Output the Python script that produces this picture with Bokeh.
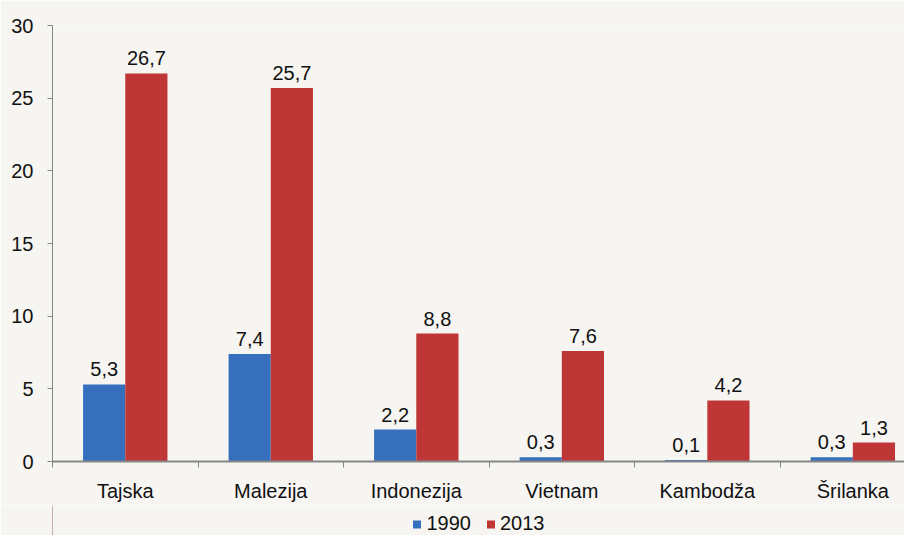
from bokeh.plotting import figure
from bokeh.layouts import column
from bokeh.models import ColumnDataSource, FixedTicker, Legend, LegendItem, Range1d
from bokeh.core.properties import value
from bokeh.embed import file_html
from bokeh.resources import INLINE

categories = ["Tajska", "Malezija", "Indonezija", "Vietnam", "Kambodža", "Šrilanka"]
values_1990 = [5.3, 7.4, 2.2, 0.3, 0.1, 0.3]
values_2013 = [26.7, 25.7, 8.8, 7.6, 4.2, 1.3]
series_names = ["1990", "2013"]
y_ticks = [0, 5, 10, 15, 20, 25, 30]

def fmt(v):
    return f"{v:.1f}".replace(".", ",")

centers = [i + 0.5 for i in range(len(categories))]
bw = 0.29
src1 = ColumnDataSource(dict(x=[c - bw / 2 for c in centers], top=values_1990,
                             lab=[fmt(v) for v in values_1990]))
src2 = ColumnDataSource(dict(x=[c + bw / 2 for c in centers], top=values_2013,
                             lab=[fmt(v) for v in values_2013]))

FS = "20px"
FONT = "Liberation Sans"
BG = "#f6f5f2"
BLUE = "#3670bd"
RED = "#bf3636"

p = figure(width=904, height=505, output_backend="svg", toolbar_location=None,
           x_range=Range1d(0, 5.855), y_range=Range1d(0, 30),
           min_border_left=52, min_border_right=0, min_border_top=25,
           min_border_bottom=44)
p.background_fill_color = BG
p.border_fill_color = BG
p.outline_line_color = None
p.xgrid.visible = False
p.ygrid.visible = False

r1 = p.vbar(x="x", top="top", width=bw, bottom=0, source=src1,
            fill_color=BLUE, line_color=None)
r2 = p.vbar(x="x", top="top", width=bw, bottom=0, source=src2,
            fill_color=RED, line_color=None)

for s in (src1, src2):
    p.text(x="x", y="top", text="lab", source=s, text_align="center",
           text_baseline="alphabetic", y_offset=-15, text_font_size=FS,
           text_font=value(FONT), text_color="#111111")

# y axis
p.yaxis.ticker = FixedTicker(ticks=y_ticks)
p.yaxis.axis_line_color = "#868686"
p.yaxis.major_tick_line_color = "#868686"
p.yaxis.major_tick_out = 5
p.yaxis.major_tick_in = 0
p.yaxis.minor_tick_line_color = None
p.yaxis.major_label_text_font = FONT
p.yaxis.major_label_text_font_size = FS
p.yaxis.major_label_text_color = "#111111"
p.yaxis.major_label_standoff = 14

# x axis
p.xaxis.ticker = FixedTicker(ticks=centers, minor_ticks=list(range(0, 7)))
p.xaxis.major_label_overrides = {c: n for c, n in zip(centers, categories)}
p.xaxis.axis_line_color = "#868686"
p.xaxis.axis_line_width = 2
p.xaxis.major_tick_line_color = None
p.xaxis.minor_tick_line_color = "#868686"
p.xaxis.minor_tick_out = 6
p.xaxis.minor_tick_in = 0
p.xaxis.major_label_text_font = FONT
p.xaxis.major_label_text_font_size = FS
p.xaxis.major_label_text_color = "#111111"
p.xaxis.major_label_standoff = 12

# legend strip below the chart (swatch renderers sit outside the visible range)
lg = figure(width=904, height=30, output_backend="svg", toolbar_location=None,
            x_axis_type=None, y_axis_type=None,
            x_range=Range1d(0, 1), y_range=Range1d(0, 1),
            min_border_left=0, min_border_right=0, min_border_top=0,
            min_border_bottom=0)
lg.background_fill_color = BG
lg.border_fill_color = BG
lg.outline_line_color = None
lg.xgrid.visible = False
lg.ygrid.visible = False
d1 = lg.vbar(x=[-10], top=[1], width=0.1, fill_color=BLUE, line_color=None)
d2 = lg.vbar(x=[-10], top=[1], width=0.1, fill_color=RED, line_color=None)
legend = Legend(items=[LegendItem(label=series_names[0], renderers=[d1]),
                       LegendItem(label=series_names[1], renderers=[d2])],
                orientation="horizontal", location="bottom_center",
                glyph_width=10, glyph_height=10, label_standoff=5, spacing=14,
                padding=0, margin=0, label_text_font=FONT,
                label_text_font_size=FS, label_text_color="#111111",
                background_fill_alpha=0, border_line_color=None)
lg.add_layout(legend, "center")

layout = column(p, lg, spacing=0)
open("out.html", "w").write(file_html(layout, INLINE))
